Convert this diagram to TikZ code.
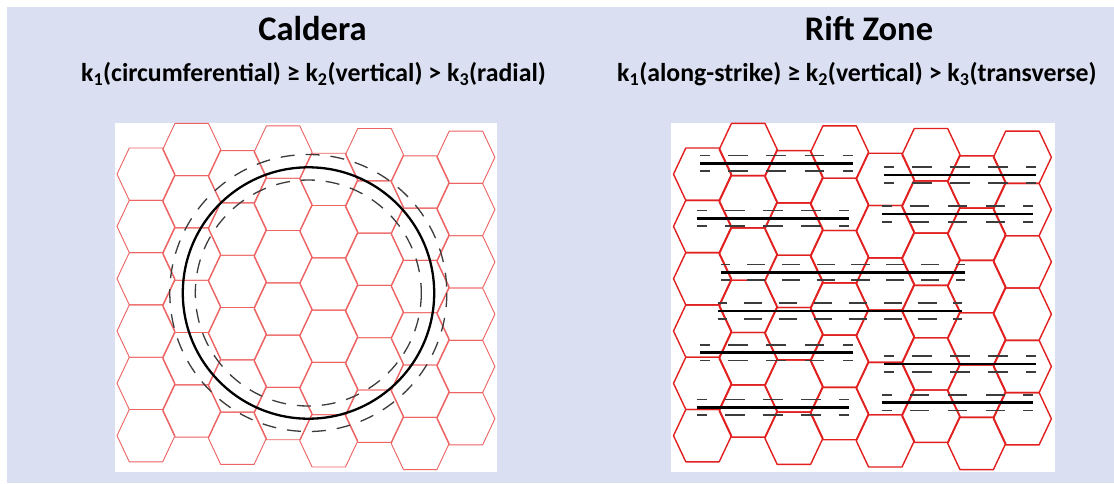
\documentclass[tikz,border=0pt]{standalone}
\usepackage{fontspec}
\setmainfont{Carlito}
\definecolor{bgblue}{RGB}{218,224,242}
\definecolor{hexlight}{RGB}{238,98,98}
\definecolor{hexdark}{RGB}{226,32,32}
\definecolor{dashgray}{RGB}{60,60,60}

\tikzset{
  hexthin/.style={draw=hexlight, line width=0.9pt, line join=round},
  hexthick/.style={draw=hexdark, line width=1.4pt, line join=round},
  ring/.style={draw=black, line width=2.3pt},
  dashring/.style={draw=dashgray, line width=1.3pt, dash pattern=on 14pt off 11pt},
  faultline/.style={draw=black, line width=2.6pt},
  faultdash/.style={draw=dashgray, line width=1.8pt},
  title/.style={anchor=base, inner sep=0pt, font=\fontsize{34.5}{40}\selectfont\bfseries},
  subtitle/.style={anchor=base, inner sep=0pt, font=\fontsize{25.8}{30}\selectfont\bfseries},
}

% honeycomb of 8 columns x 6 rows; #1 = horizontal shift, #2 = line style
\newcommand\honeycomb[2]{%
  \foreach \i in {0,...,7}{%
    \pgfmathsetmacro\cx{#1+146+45.7*\i}%
    \pgfmathsetmacro\ty{122+1.3*\i+26*(1-mod(\i,2))}%
    \foreach \j in {0,...,5}{%
      \pgfmathsetmacro\cy{\ty+26.15+52.3*\j}%
      \draw[#2] (\cx-29,\cy) -- (\cx-16.7,\cy-26.15) -- (\cx+16.7,\cy-26.15)
        -- (\cx+29,\cy) -- (\cx+16.7,\cy+26.15) -- (\cx-16.7,\cy+26.15) -- cycle;
    }%
  }%
}

% solid fracture flanked by two dashed ones; #1,#2 = x ends, #3 = y, #4 = dash periods
\newcommand\faultzone[4]{%
  \pgfmathsetmacro\per{(#2-#1)/#4}%
  \pgfmathsetmacro\dl{0.52*\per}%
  \pgfmathsetmacro\gl{\per-\dl}%
  \pgfmathsetmacro\ph{\dl/2}%
  \draw[faultdash, dash pattern=on \dl pt off \gl pt, dash phase=\ph pt]
    (#1,{#3-7.8}) -- (#2,{#3-7.8});
  \draw[faultdash, dash pattern=on \dl pt off \gl pt, dash phase=\ph pt]
    (#1,{#3+7.8}) -- (#2,{#3+7.8});
  \draw[faultline] (#1,#3) -- (#2,#3);
}

\begin{document}
\begin{tikzpicture}[x=1pt, y=-1pt]
  \useasboundingbox (0,0) rectangle (1114,483);
  \fill[white] (0,0) rectangle (1114,483);
  \fill[bgblue] (7,7) rectangle (1114,483);

  % titles
  \node[title] (tcal) at (312.5,40) {Caldera};
  \node[title] (trift) at (869,40) {Rift Zone};
  \node[subtitle] (scal) at (313.5,81.7)
    {k\textsubscript{1}(circumferential) ≥ k\textsubscript{2}(vertical) > k\textsubscript{3}(radial)};
  \node[subtitle] (srift) at (857,81.7)
    {k\textsubscript{1}(along-strike) ≥ k\textsubscript{2}(vertical) > k\textsubscript{3}(transverse)};

  % caldera panel
  \fill[white] (115,123) rectangle (497,472);
  \honeycomb{0}{hexthin}
  \draw[dashring] (308.3,293) circle[radius=138.5];
  \draw[dashring] (308.3,293) circle[radius=113];
  \draw[ring] (308.5,293) circle[radius=125.7];

  % rift zone panel
  \fill[white] (670.7,123) rectangle (1055,472);
  \honeycomb{556.5}{hexthick}
  \faultzone{700}{852.7}{163.3}{4}
  \faultzone{884.3}{1036}{175}{4}
  \faultzone{696.7}{849}{218.3}{4}
  \faultzone{881.7}{1033.3}{214}{4}
  \faultzone{721}{965}{272.3}{7}
  \faultzone{718.3}{962.3}{311}{7}
  \faultzone{700}{852.7}{352.7}{4}
  \faultzone{884.3}{1036}{364}{4}
  \faultzone{696.7}{849}{407.3}{4}
  \faultzone{881.7}{1033.3}{402.7}{4}
\end{tikzpicture}
\end{document}
